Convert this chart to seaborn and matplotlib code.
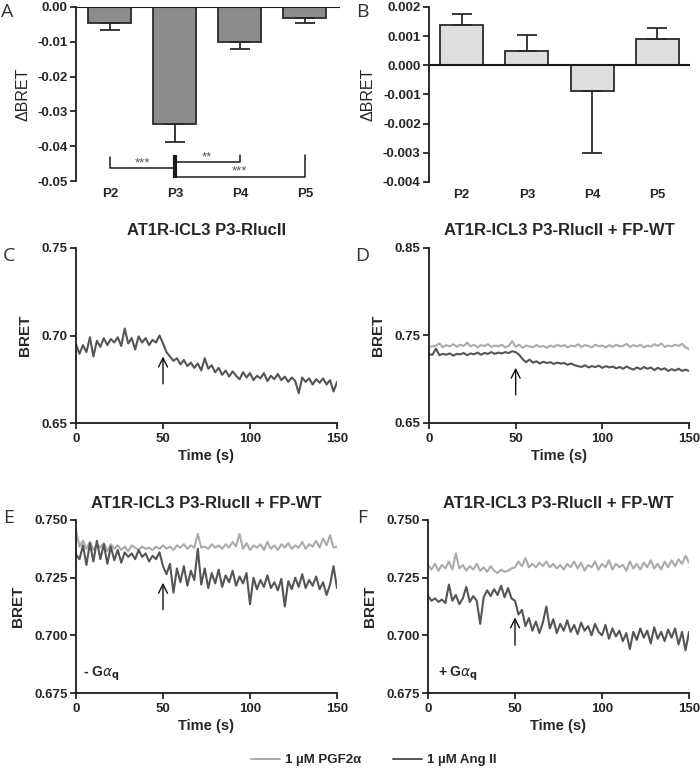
import numpy as np
import pandas as pd
import matplotlib
matplotlib.use('Agg')
import matplotlib.pyplot as plt
import seaborn as sns
from matplotlib.lines import Line2D
from matplotlib.ticker import FormatStrFormatter

# ---------------- data ----------------
peptides = ['P2', 'P3', 'P4', 'P5']
a_mean = [-0.0047, -0.0337, -0.0102, -0.0031]
a_err = [0.0020, 0.0051, 0.0020, 0.0015]
b_mean = [0.00137, 0.00048, -0.00088, 0.00089]
b_err = [0.00040, 0.00055, 0.00214, 0.00040]

time_s = list(range(0, 151, 2))

c_ang = [0.6950, 0.6895, 0.6945, 0.6905, 0.6990, 0.6880, 0.6970, 0.6935, 0.6985, 0.6945,
         0.6980, 0.6960, 0.6990, 0.6940, 0.7040, 0.6955, 0.6985, 0.6920, 0.6995, 0.6960,
         0.6985, 0.6945, 0.6975, 0.6960, 0.7000, 0.6955, 0.6905, 0.6880, 0.6855, 0.6870,
         0.6835, 0.6860, 0.6825, 0.6845, 0.6815, 0.6840, 0.6800, 0.6870, 0.6810, 0.6830,
         0.6790, 0.6815, 0.6775, 0.6800, 0.6765, 0.6795, 0.6770, 0.6750, 0.6790, 0.6760,
         0.6785, 0.6745, 0.6770, 0.6755, 0.6785, 0.6740, 0.6770, 0.6750, 0.6780, 0.6745,
         0.6765, 0.6735, 0.6760, 0.6740, 0.6670, 0.6760, 0.6735, 0.6755, 0.6720, 0.6750,
         0.6730, 0.6755, 0.6720, 0.6745, 0.6680, 0.6735]

d_pgf = [0.7370, 0.7375, 0.7385, 0.7410, 0.7365, 0.7390, 0.7375, 0.7400, 0.7370, 0.7395,
         0.7380, 0.7420, 0.7375, 0.7395, 0.7365, 0.7390, 0.7380, 0.7400, 0.7370, 0.7385,
         0.7375, 0.7395, 0.7365, 0.7380, 0.7435, 0.7370, 0.7395, 0.7360, 0.7385, 0.7375,
         0.7365, 0.7390, 0.7370, 0.7380, 0.7360, 0.7385, 0.7370, 0.7395, 0.7375, 0.7390,
         0.7365, 0.7385, 0.7375, 0.7400, 0.7370, 0.7390, 0.7380, 0.7365, 0.7395, 0.7375,
         0.7385, 0.7365, 0.7390, 0.7370, 0.7395, 0.7375, 0.7380, 0.7405, 0.7370, 0.7390,
         0.7375, 0.7395, 0.7365, 0.7385, 0.7375, 0.7400, 0.7380, 0.7410, 0.7370, 0.7385,
         0.7375, 0.7395, 0.7380, 0.7405, 0.7365, 0.7345]
d_ang = [0.7285, 0.7280, 0.7350, 0.7275, 0.7290, 0.7280, 0.7295, 0.7270, 0.7290, 0.7285,
         0.7300, 0.7275, 0.7295, 0.7285, 0.7305, 0.7280, 0.7300, 0.7290, 0.7310, 0.7290,
         0.7305, 0.7295, 0.7310, 0.7300, 0.7320, 0.7310, 0.7280, 0.7230, 0.7195, 0.7225,
         0.7190, 0.7205, 0.7180, 0.7200, 0.7185, 0.7195, 0.7175, 0.7190, 0.7180, 0.7185,
         0.7165, 0.7180, 0.7160, 0.7150, 0.7140, 0.7160, 0.7135, 0.7150, 0.7140, 0.7155,
         0.7130, 0.7150, 0.7135, 0.7145, 0.7125, 0.7140, 0.7120, 0.7145, 0.7125, 0.7110,
         0.7135, 0.7115, 0.7140, 0.7120, 0.7135, 0.7105, 0.7130, 0.7110, 0.7125, 0.7095,
         0.7115, 0.7100, 0.7120, 0.7095, 0.7110, 0.7095]

e_pgf = [0.7455, 0.7385, 0.7410, 0.7375, 0.7405, 0.7370, 0.7395, 0.7380, 0.7400, 0.7365,
         0.7395, 0.7375, 0.7390, 0.7370, 0.7385, 0.7365, 0.7390, 0.7380, 0.7370, 0.7385,
         0.7375, 0.7380, 0.7370, 0.7385, 0.7375, 0.7390, 0.7375, 0.7385, 0.7370, 0.7390,
         0.7380, 0.7395, 0.7375, 0.7390, 0.7380, 0.7440, 0.7380, 0.7385, 0.7375, 0.7395,
         0.7380, 0.7390, 0.7375, 0.7395, 0.7380, 0.7405, 0.7385, 0.7440, 0.7375, 0.7400,
         0.7370, 0.7390, 0.7380, 0.7395, 0.7370, 0.7405, 0.7375, 0.7390, 0.7370, 0.7395,
         0.7380, 0.7400, 0.7375, 0.7390, 0.7380, 0.7405, 0.7375, 0.7395, 0.7385, 0.7410,
         0.7380, 0.7420, 0.7390, 0.7435, 0.7380, 0.7385]
e_ang = [0.7350, 0.7330, 0.7390, 0.7305, 0.7400, 0.7320, 0.7410, 0.7330, 0.7395, 0.7310,
         0.7385, 0.7325, 0.7370, 0.7315, 0.7360, 0.7340, 0.7355, 0.7330, 0.7370, 0.7340,
         0.7355, 0.7320, 0.7345, 0.7330, 0.7360, 0.7300, 0.7265, 0.7310, 0.7185, 0.7290,
         0.7230, 0.7300, 0.7215, 0.7280, 0.7240, 0.7375, 0.7220, 0.7290, 0.7205, 0.7270,
         0.7225, 0.7285, 0.7210, 0.7260, 0.7230, 0.7280, 0.7215, 0.7255, 0.7225, 0.7270,
         0.7135, 0.7250, 0.7200, 0.7240, 0.7210, 0.7260, 0.7205, 0.7230, 0.7195, 0.7245,
         0.7125, 0.7235, 0.7200, 0.7250, 0.7210, 0.7265, 0.7205, 0.7240, 0.7215, 0.7255,
         0.7200, 0.7230, 0.7175, 0.7220, 0.7300, 0.7205]

f_pgf = [0.7305, 0.7285, 0.7310, 0.7280, 0.7305, 0.7290, 0.7320, 0.7285, 0.7355, 0.7290,
         0.7305, 0.7280, 0.7300, 0.7285, 0.7310, 0.7280, 0.7295, 0.7275, 0.7300, 0.7280,
         0.7270, 0.7285, 0.7275, 0.7280, 0.7290, 0.7295, 0.7320, 0.7300, 0.7335, 0.7295,
         0.7310, 0.7295, 0.7315, 0.7300, 0.7320, 0.7295, 0.7310, 0.7290, 0.7305, 0.7285,
         0.7310, 0.7295, 0.7320, 0.7290, 0.7315, 0.7280, 0.7305, 0.7295, 0.7320, 0.7285,
         0.7310, 0.7295, 0.7325, 0.7285, 0.7310, 0.7295, 0.7305, 0.7280, 0.7320, 0.7290,
         0.7310, 0.7285, 0.7315, 0.7295, 0.7325, 0.7290, 0.7310, 0.7285, 0.7320, 0.7295,
         0.7325, 0.7300, 0.7330, 0.7310, 0.7345, 0.7315]
f_ang = [0.7170, 0.7150, 0.7160, 0.7145, 0.7155, 0.7140, 0.7220, 0.7150, 0.7175, 0.7135,
         0.7160, 0.7210, 0.7145, 0.7170, 0.7150, 0.7050, 0.7165, 0.7195, 0.7170, 0.7200,
         0.7175, 0.7215, 0.7165, 0.7205, 0.7160, 0.7150, 0.7090, 0.7110, 0.7040, 0.7075,
         0.7020, 0.7060, 0.7010, 0.7055, 0.7125, 0.7030, 0.7070, 0.7010, 0.7050, 0.7020,
         0.7065, 0.7015, 0.7045, 0.7005, 0.7055, 0.7020, 0.7040, 0.7000, 0.7050, 0.7015,
         0.7000, 0.7045, 0.6985, 0.7030, 0.6995, 0.7020, 0.6975, 0.7010, 0.6940, 0.7015,
         0.6980, 0.7030, 0.6990, 0.7020, 0.6965, 0.7035, 0.6985, 0.7015, 0.6975, 0.7025,
         0.6990, 0.7030, 0.6960, 0.7015, 0.6935, 0.7015]

treat_pgf = '1 µM PGF2α'
treat_ang = '1 µM Ang II'
title_c = 'AT1R-ICL3 P3-RlucII'
title_dfe = 'AT1R-ICL3 P3-RlucII + FP-WT'

# ---------------- style ----------------
sns.set_style('ticks')
plt.rcParams['font.family'] = ['Liberation Sans', 'DejaVu Sans']
plt.rcParams['axes.linewidth'] = 1.3
plt.rcParams['xtick.major.width'] = 1.3
plt.rcParams['ytick.major.width'] = 1.3
plt.rcParams['xtick.major.size'] = 4
plt.rcParams['ytick.major.size'] = 4
plt.rcParams['axes.edgecolor'] = '#1a1a1a'

COL_PGF = '#ababab'
COL_ANG = '#555555'
TICK_FS = 9.5
fig = plt.figure(figsize=(7, 7.72), dpi=100)


def ax_px(l, t, r, b):
    return fig.add_axes([l / 700, 1 - b / 772, (r - l) / 700, (b - t) / 772])


axA = ax_px(76, 7, 340, 181)
axB = ax_px(429, 7, 690, 182)
axC = ax_px(76, 248, 337, 423)
axD = ax_px(429, 248, 689, 423)
axE = ax_px(76, 520, 337, 693)
axF = ax_px(428, 520, 689, 693)

# ---------------- bar panels ----------------
def bar_panel(ax, means, errs, fill, ylim, yticks, fmt):
    df = pd.DataFrame({'peptide': peptides, 'dbret': means})
    sns.barplot(data=df, x='peptide', y='dbret', ax=ax, color=fill, saturation=1,
                edgecolor='#2a2a2a', linewidth=1.3, width=0.66, errorbar=None)
    xs = np.arange(len(peptides))
    for x, m, e in zip(xs, means, errs):
        yerr = [[e], [0]] if m < 0 else [[0], [e]]
        ax.errorbar([x], [m], yerr=yerr, fmt='none', ecolor='#2a2a2a',
                    elinewidth=1.3, capsize=7, capthick=1.3, zorder=1)
    ax.set_ylim(*ylim)
    ax.set_yticks(yticks)
    ax.yaxis.set_major_formatter(FormatStrFormatter(fmt))
    ax.set_xlabel('')
    ax.set_ylabel('ΔBRET', fontsize=11.5, labelpad=5)
    sns.despine(ax=ax, bottom=True, right=True, top=True)
    ax.tick_params(axis='x', length=0, pad=5)
    ax.tick_params(axis='y', pad=2)
    for lab in ax.get_xticklabels() + ax.get_yticklabels():
        lab.set_fontweight('bold')
        lab.set_fontsize(TICK_FS)


bar_panel(axA, a_mean, a_err, '#8c8c8c', (-0.05, 0.0),
          [0.0, -0.01, -0.02, -0.03, -0.04, -0.05], '%.2f')
axA.set_xlim(-0.52, 3.54)
axA.axhline(0, color='#1a1a1a', lw=1.5, zorder=3)

bar_panel(axB, b_mean, b_err, '#dedede', (-0.004, 0.002),
          [0.002, 0.001, 0.0, -0.001, -0.002, -0.003, -0.004], '%.3f')
axB.set_xlim(-0.5, 3.5)
axB.axhline(0, color='#1a1a1a', lw=1.5, zorder=3)

# significance brackets in A
bk = dict(color='#1a1a1a', lw=1.1, clip_on=False)
axA.plot([0, 0, 1], [-0.0430, -0.0464, -0.0464], **bk)
axA.plot([1, 2, 2], [-0.0446, -0.0446, -0.0425], **bk)
axA.plot([1, 3, 3], [-0.0488, -0.0488, -0.0425], **bk)
axA.plot([1, 1], [-0.0425, -0.0490], color='#1a1a1a', lw=3, clip_on=False,
         solid_capstyle='butt')
axA.text(0.5, -0.0449, '***', ha='center', va='center', fontsize=9.5, color='#555')
axA.text(1.5, -0.0431, '**', ha='center', va='center', fontsize=9.5, color='#555')
axA.text(2.0, -0.0472, '***', ha='center', va='center', fontsize=9.5, color='#555')

# ---------------- trace panels ----------------
def trace_panel(ax, series, title, ylim, yticks, fmt, arrow):
    frames = []
    for name, vals in series:
        frames.append(pd.DataFrame({'Time': time_s, 'BRET': vals, 'Treatment': name}))
    df = pd.concat(frames, ignore_index=True)
    sns.lineplot(data=df, x='Time', y='BRET', hue='Treatment',
                 hue_order=[s[0] for s in series],
                 palette={treat_pgf: COL_PGF, treat_ang: COL_ANG},
                 ax=ax, legend=False, linewidth=1.5)
    ax.set_xlim(0, 150)
    ax.set_ylim(*ylim)
    ax.set_xticks([0, 50, 100, 150])
    ax.set_yticks(yticks)
    ax.yaxis.set_major_formatter(FormatStrFormatter(fmt))
    sns.despine(ax=ax)
    ax.set_title(title, fontsize=12, fontweight='bold', pad=9)
    ax.set_xlabel('Time (s)', fontsize=10.5, fontweight='bold', labelpad=3)
    ax.set_ylabel('BRET', fontsize=11, fontweight='bold', labelpad=7)
    ax.tick_params(axis='y', pad=2)
    ax.tick_params(axis='x', pad=3)
    for lab in ax.get_xticklabels() + ax.get_yticklabels():
        lab.set_fontweight('bold')
        lab.set_fontsize(TICK_FS)
    ax.annotate('', xy=(50, arrow[1]), xytext=(50, arrow[0]),
                arrowprops=dict(arrowstyle='->', lw=1.0, color='#111',
                                mutation_scale=16, shrinkA=0, shrinkB=0))


trace_panel(axC, [(treat_ang, c_ang)], title_c, (0.65, 0.75),
            [0.65, 0.70, 0.75], '%.2f', (0.6724, 0.6880))
trace_panel(axD, [(treat_pgf, d_pgf), (treat_ang, d_ang)], title_dfe, (0.65, 0.85),
            [0.65, 0.75, 0.85], '%.2f', (0.6822, 0.7132))
trace_panel(axE, [(treat_pgf, e_pgf), (treat_ang, e_ang)], title_dfe, (0.675, 0.750),
            [0.675, 0.700, 0.725, 0.750], '%.3f', (0.7112, 0.7228))
trace_panel(axF, [(treat_pgf, f_pgf), (treat_ang, f_ang)], title_dfe, (0.675, 0.750),
            [0.675, 0.700, 0.725, 0.750], '%.3f', (0.6957, 0.7078))

axE.text(4, 0.6835, r'- G$\alpha_{\mathbf{q}}$', fontsize=10, fontweight='bold', va='center')
axF.text(6, 0.6835, r'+ G$\alpha_{\mathbf{q}}$', fontsize=10, fontweight='bold', va='center')

# panel letters
for letter, (x, y) in {'A': (1, 12), 'B': (356, 12), 'C': (3, 256),
                       'D': (355, 256), 'E': (3, 518), 'F': (357, 518)}.items():
    fig.text(x / 700, 1 - y / 772, letter, fontsize=14, family=['Open Sans', 'DejaVu Sans'],
             color='#333', ha='left', va='center')

# legend
handles = [Line2D([], [], color=COL_PGF, lw=1.4), Line2D([], [], color=COL_ANG, lw=1.4)]
fig.legend(handles, [treat_pgf, treat_ang], loc='center', ncol=2,
           bbox_to_anchor=(0.534, 1 - 760 / 772), frameon=False, handlelength=2.2,
           handletextpad=0.4, columnspacing=2.4, prop={'weight': 'bold', 'size': 9.5})

fig.savefig('out.png', dpi=100)
